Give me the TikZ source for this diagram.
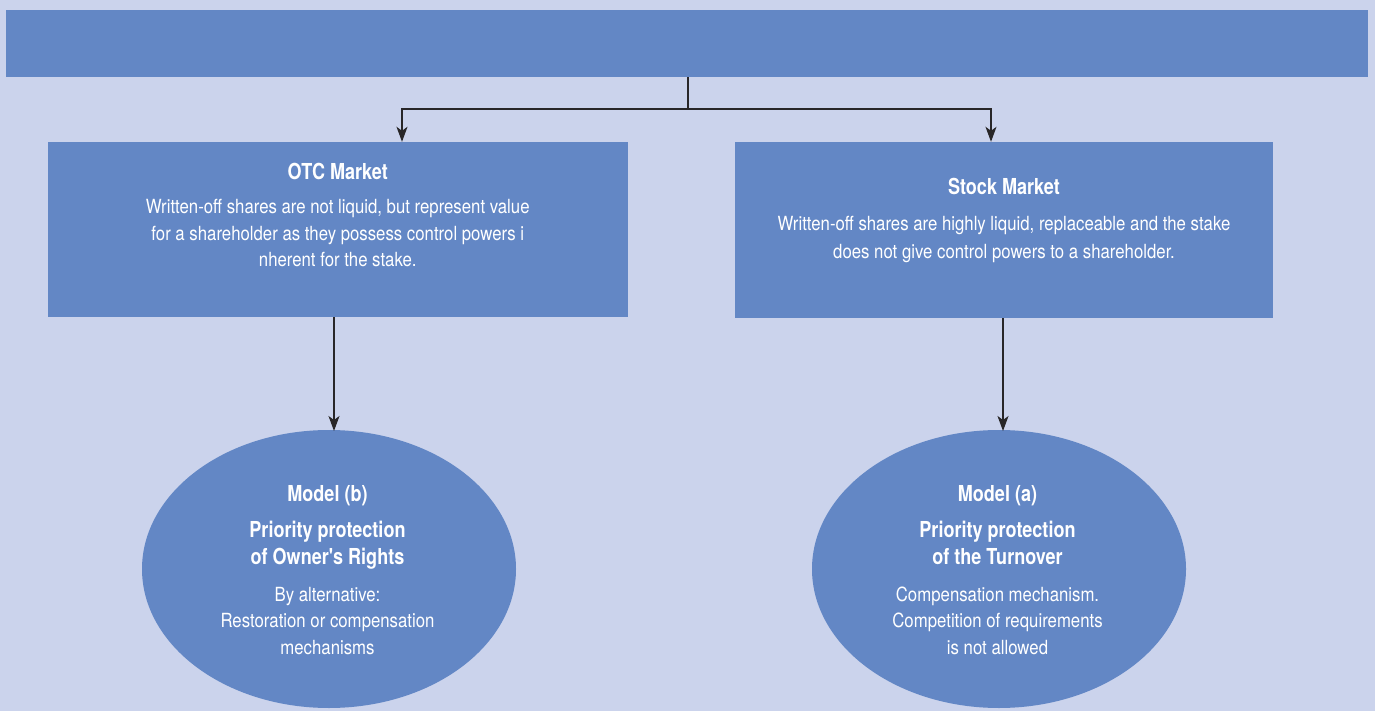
\documentclass[tikz,border=0pt]{standalone}
\usepackage{fontspec}
\setmainfont{TeX Gyre Heros}
\newfontfamily\bodyfont{TeX Gyre Heros}[FakeStretch=0.86]
\newfontfamily\titlefont{TeX Gyre Heros}[FakeStretch=0.82]
\usetikzlibrary{arrows.meta,shapes.geometric}
\definecolor{bg}{RGB}{203,211,236}
\definecolor{boxc}{RGB}{99,135,197}
\definecolor{linec}{RGB}{40,38,40}
\tikzset{
  boxst/.style={rectangle,fill=boxc,draw=none,inner sep=0pt},
  ellst/.style={ellipse,fill=boxc,draw=none,inner sep=0pt,minimum width=374pt,minimum height=278pt},
  ttl/.style={text=white,font=\titlefont\bfseries\fontsize{22}{26}\selectfont,anchor=base,inner sep=0pt},
  bodyt/.style={text=white,font=\bodyfont\fontsize{19.5}{26}\selectfont,anchor=base,inner sep=0pt},
  arr/.style={draw=linec,line width=1.2pt,-{Stealth[length=15pt,width=11pt,inset=4pt]}},
  ln/.style={draw=linec,line width=1.2pt}
}
\begin{document}
\begin{tikzpicture}[x=1pt,y=-1pt]
\fill[bg] (0,0) rectangle (1375,711);
\useasboundingbox (0,0) rectangle (1375,711);
% boxes
\node[boxst,minimum width=1362pt,minimum height=67pt] (top) at (687,43.5) {};
\node[boxst,minimum width=580.5pt,minimum height=175pt] (lbox) at (337.75,229.5) {};
\node[boxst,minimum width=538pt,minimum height=176pt] (rbox) at (1004,230) {};
\node[ellst] (lell) at (329,569) {};
\node[ellst] (rell) at (999,569) {};
% connectors
\coordinate (j) at (688,109);
\coordinate (jl) at (402,109);
\coordinate (jr) at (991,109);
\coordinate (la) at (334,431);
\coordinate (ra) at (1003,431);
\draw[ln] (top.south -| j) -- (j);
\draw[arr] (j) -- (jl) -- (jl |- lbox.north);
\draw[arr] (j) -- (jr) -- (jr |- rbox.north);
\draw[arr] (lbox.south -| la) -- (la);
\draw[arr] (rbox.south -| ra) -- (ra);
% left box text
\node[ttl] (lt) at (337.75,179.3) {OTC Market};
\node[bodyt] (lb1) at (337.75,214) {Written-off shares are not liquid, but represent value};
\node[bodyt] (lb2) at (337.75,240.5) {for a shareholder as they possess control powers i};
\node[bodyt] (lb3) at (337.75,266.5) {nherent for the stake.};
% right box text
\node[ttl] (rt) at (1004,194.5) {Stock Market};
\node[bodyt] (rb1) at (1004,230.5) {Written-off shares are highly liquid, replaceable and the stake};
\node[bodyt] (rb2) at (1004,258.5) {does not give control powers to a shareholder.};
% left ellipse text
\node[ttl] (le1) at (327.5,501) {Model (b)};
\node[ttl] (le2) at (327.5,537.7) {Priority protection};
\node[ttl] (le3) at (327.5,564.5) {of Owner's Rights};
\node[bodyt] (le4) at (327.5,601) {By alternative:};
\node[bodyt] (le5) at (327.5,627.5) {Restoration or compensation};
\node[bodyt] (le6) at (327.5,654) {mechanisms};
% right ellipse text
\node[ttl] (re1) at (997.5,501) {Model (a)};
\node[ttl] (re2) at (997.5,537.7) {Priority protection};
\node[ttl] (re3) at (997.5,564.5) {of the Turnover};
\node[bodyt] (re4) at (997.5,601) {Compensation mechanism.};
\node[bodyt] (re5) at (997.5,627.5) {Competition of requirements};
\node[bodyt] (re6) at (997.5,654) {is not allowed};
\end{tikzpicture}
\end{document}
